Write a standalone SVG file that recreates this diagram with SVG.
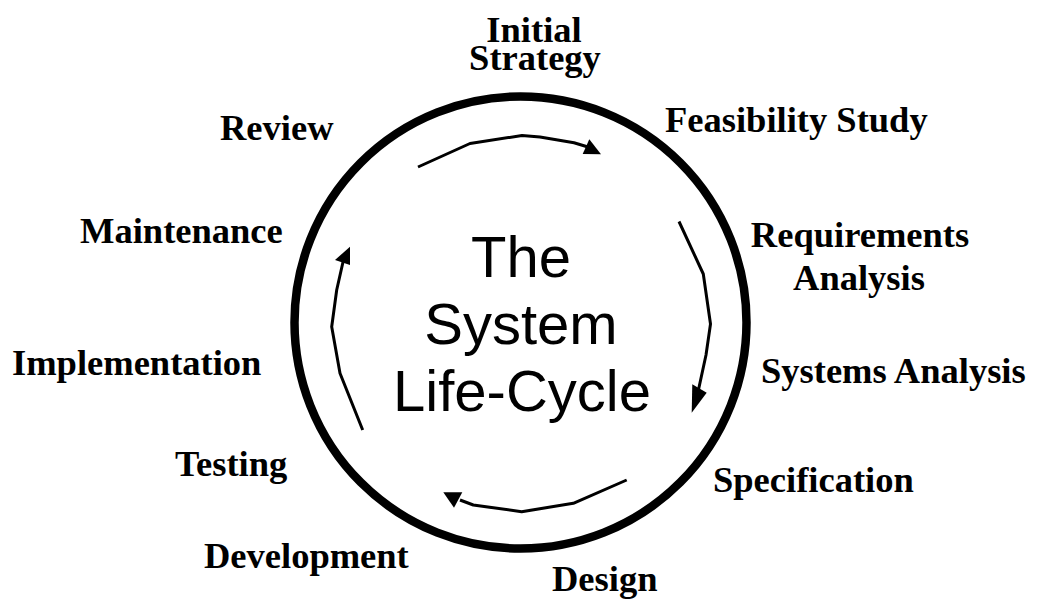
<svg xmlns="http://www.w3.org/2000/svg" width="1038" height="599" viewBox="0 0 1038 599">
  <style>
    .stage { font-family: "Liberation Serif", "Times New Roman", serif; font-weight: bold; font-size: 36.5px; fill: #000; }
    .title { font-family: "Liberation Sans", Arial, sans-serif; font-size: 58px; fill: #000; text-anchor: middle; }
    .ring { fill: none; stroke: #000; stroke-width: 8.5; }
    .flow { fill: none; stroke: #000; stroke-width: 3; stroke-linejoin: round; }
    .head { fill: #000; stroke: none; }
  </style>
  <rect width="1038" height="599" fill="#fff"/>

  <!-- outer ring -->
  <g id="ring">
    <circle class="ring" cx="520.5" cy="322.5" r="226"/>
  </g>

  <!-- centre title -->
  <g id="title">
    <text class="title" x="521" y="277">The</text>
    <text class="title" x="521" y="344">System</text>
    <text class="title" x="522" y="411">Life-Cycle</text>
  </g>

  <!-- circulating arrows (clockwise) -->
  <g id="connectors">
    <polyline class="flow" points="418,167 470,143.5 522,135.5 540,137 574,142.7 588,147"/>
    <polygon class="head" points="601,154.3 582.7,154 589.3,139.3"/>
    <polyline class="flow" points="679,221.5 703.3,274 710.5,324 706,355 698,392"/>
    <polygon class="head" points="691.7,412.7 706.7,392.7 692.3,384.3"/>
    <polyline class="flow" points="626.7,480 573.3,503.3 521.7,511.7 473.3,505 460,500"/>
    <polygon class="head" points="443.3,492.3 462.3,492.3 454,507.7"/>
    <polyline class="flow" points="362.7,430 340,373.3 331.7,326.7 336.7,290 343,262"/>
    <polygon class="head" points="350,246.7 335,260 350,265"/>
  </g>

  <!-- stages round the cycle -->
  <g id="initial-strategy">
    <text class="stage" x="534" y="42" text-anchor="middle">Initial</text>
    <text class="stage" x="535" y="70" text-anchor="middle">Strategy</text>
  </g>
  <g id="feasibility-study">
    <text class="stage" x="665" y="132">Feasibility Study</text>
  </g>
  <g id="requirements-analysis">
    <text class="stage" x="860" y="247" text-anchor="middle">Requirements</text>
    <text class="stage" x="859" y="290" text-anchor="middle">Analysis</text>
  </g>
  <g id="systems-analysis">
    <text class="stage" x="761" y="383">Systems Analysis</text>
  </g>
  <g id="specification">
    <text class="stage" x="713" y="492">Specification</text>
  </g>
  <g id="design">
    <text class="stage" x="552" y="591">Design</text>
  </g>
  <g id="development">
    <text class="stage" x="204" y="568">Development</text>
  </g>
  <g id="testing">
    <text class="stage" x="175" y="476">Testing</text>
  </g>
  <g id="implementation">
    <text class="stage" x="12" y="375">Implementation</text>
  </g>
  <g id="maintenance">
    <text class="stage" x="80" y="243">Maintenance</text>
  </g>
  <g id="review">
    <text class="stage" x="220" y="140">Review</text>
  </g>
</svg>
